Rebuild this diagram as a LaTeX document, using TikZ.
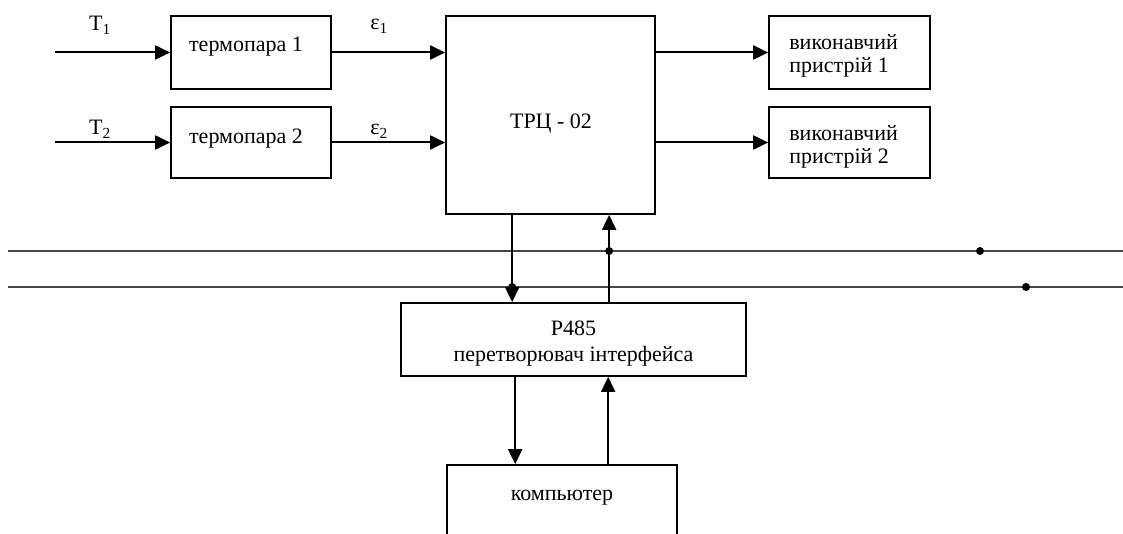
\documentclass[tikz,border=0pt]{standalone}
\usepackage{fontspec}
\setmainfont{Liberation Serif}
\usetikzlibrary{arrows.meta,positioning,calc}

\tikzset{
  box/.style={draw, line width=1.7pt, inner sep=0pt},
  wire/.style={line width=2pt, -{Triangle[length=15pt,width=14pt]}},
  bus/.style={line width=2pt, black!72},
  txt/.style={anchor=base, inner sep=0pt, font=\fontsize{22}{23}\selectfont},
  tap/.style={circle, fill, inner sep=0pt, minimum size=8pt}
}

\begin{document}
\begin{tikzpicture}[x=1pt,y=-1pt]
  \useasboundingbox (0,0) rectangle (1123,534);
  \clip (0,0) rectangle (1123,534);
  % blocks
  \node[box, minimum width=160, minimum height=73] (tp1) at (251,52.5) {};
  \node[box, minimum width=160, minimum height=71] (tp2) at (251,142.5) {};
  \node[box, minimum width=209, minimum height=198] (trc) at (550.5,115) {};
  \node[box, minimum width=161, minimum height=73] (vp1) at (849.5,52.5) {};
  \node[box, minimum width=161, minimum height=71] (vp2) at (849.5,142.5) {};
  \node[box, minimum width=345, minimum height=73] (p485) at (573.5,339.5) {};
  \node[box, minimum width=230, minimum height=90] (pc) at (562,510) {};
  % texts
  \node[txt] (tp1t) at ([xshift=-5,yshift=-36]tp1.north) {термопара 1};
  \node[txt] (tp2t) at ([xshift=-5,yshift=-37]tp2.north) {термопара 2};
  \node[txt] (trct) at (551,129) {ТРЦ - 02};
  \node[txt, anchor=base west] (vp1a) at ([xshift=21,yshift=-34]vp1.north west) {виконавчий};
  \node[txt, anchor=base west] (vp1b) at ([xshift=21,yshift=-57]vp1.north west) {пристрій 1};
  \node[txt, anchor=base west] (vp2a) at ([xshift=21,yshift=-34]vp2.north west) {виконавчий};
  \node[txt, anchor=base west] (vp2b) at ([xshift=21,yshift=-57]vp2.north west) {пристрій 2};
  \node[txt] (p485a) at ([yshift=-33]p485.north) {Р485};
  \node[txt] (p485b) at ([yshift=-59]p485.north) {перетворювач інтерфейса};
  \node[txt] (pct) at ([yshift=-36]pc.north) {компьютер};
  % inputs
  \coordinate (in1) at (55,52.5);
  \coordinate (in2) at (55,142.5);
  \node[txt] (t1) at (100,31) {T\textsubscript{1}};
  \node[txt] (t2) at (100,135) {T\textsubscript{2}};
  \node[txt] (e1) at (379,30) {ε\textsubscript{1}};
  \node[txt] (e2) at (379,135) {ε\textsubscript{2}};
  \draw[wire] (in1) -- (tp1.west);
  \draw[wire] (in2) -- (tp2.west);
  \draw[wire] (tp1.east) -- (tp1.east -| trc.west);
  \draw[wire] (tp2.east) -- (tp2.east -| trc.west);
  \draw[wire] (vp1.west -| trc.east) -- (vp1.west);
  \draw[wire] (vp2.west -| trc.east) -- (vp2.west);
  % bus
  \coordinate (busA) at (8,251);
  \coordinate (busB) at (8,287);
  \draw[bus] (busA) -- ++(1115,0);
  \draw[bus] (busB) -- ++(1115,0);
  \node[tap] (d1) at (980,251) {};
  \node[tap] (d2) at (1026,287) {};
  % links
  \draw[wire] ([xshift=67]trc.south west) -- ([xshift=67]trc.south west |- p485.north);
  \draw[wire] ([xshift=164]trc.south west |- p485.north) -- ([xshift=164]trc.south west);
  \node[tap] (d3) at ([xshift=164]trc.south west |- busA) {};
  \node[tap] (d4) at ([xshift=67]trc.south west |- busB) {};
  \draw[wire] ([xshift=69]pc.north west |- p485.south) -- ([xshift=69]pc.north west);
  \draw[wire] ([xshift=162]pc.north west) -- ([xshift=162]pc.north west |- p485.south);
\end{tikzpicture}
\end{document}
